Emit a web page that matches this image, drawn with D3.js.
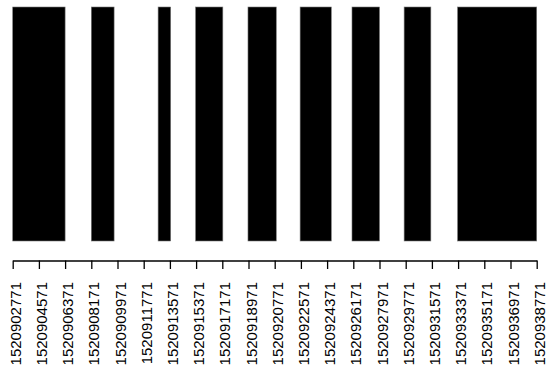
<!DOCTYPE html>
<html>
<head>
<meta charset="utf-8">
<script src="https://cdn.jsdelivr.net/npm/d3@7"></script>
<style>
    body { margin: 0; background: #fff; }
    svg { display: block; }
    .axis text { font-family: "Liberation Sans", Arial, sans-serif; font-size: 15px; fill: #000; }
    .axis path, .axis line { stroke: #000; stroke-width: 1.3; }
</style>
</head>
<body>
<svg id="chart" width="550" height="373"></svg>
<script>
// active periods (unix seconds)
var starts = [1520902771, 1520908171, 1520912761, 1520915335, 1520918935, 1520922517, 1520926081, 1520929663, 1520933335];
var ends = [1520906371, 1520909737, 1520913625, 1520917207, 1520920879, 1520924659, 1520927971, 1520931499, 1520938771];
var tickLabels = [
    1520902771, 1520904571, 1520906371, 1520908171, 1520909971, 1520911771, 1520913571,
    1520915371, 1520917171, 1520918971, 1520920771, 1520922571, 1520924371, 1520926171,
    1520927971, 1520929771, 1520931571, 1520933371, 1520935171, 1520936971, 1520938771
];

var svg = d3.select('#chart');
var xScale = d3.scaleLinear()
    .domain([tickLabels[0], tickLabels[tickLabels.length - 1]])
    .range([12.7, 536.7]);
var yScale = d3.scaleLinear().domain([0, 1]).range([241, 7]);

var bars = starts.map(function (s, i) {
    return { start: s, end: ends[i] };
});

svg.append('g')
    .selectAll('rect')
    .data(bars)
    .enter()
    .append('rect')
    .attr('x', function (d) { return xScale(d.start); })
    .attr('width', function (d) { return xScale(d.end) - xScale(d.start); })
    .attr('y', yScale(1))
    .attr('height', yScale(0) - yScale(1))
    .attr('fill', '#000')
    .attr('stroke', '#777')
    .attr('stroke-width', 0.6);

var xAxis = d3.axisBottom(xScale)
    .tickValues(tickLabels)
    .tickFormat(function (d) { return String(d); })
    .tickSize(8.5)
    .tickSizeOuter(0);

var g = svg.append('g')
    .attr('class', 'axis')
    .attr('transform', 'translate(0, 260.5)')
    .call(xAxis);

g.selectAll('text')
    .attr('text-anchor', 'end')
    .attr('transform', 'translate(7.5, 21.5) rotate(-90)')
    .attr('x', 0)
    .attr('y', 0)
    .attr('dy', 0);
</script>
</body>
</html>
